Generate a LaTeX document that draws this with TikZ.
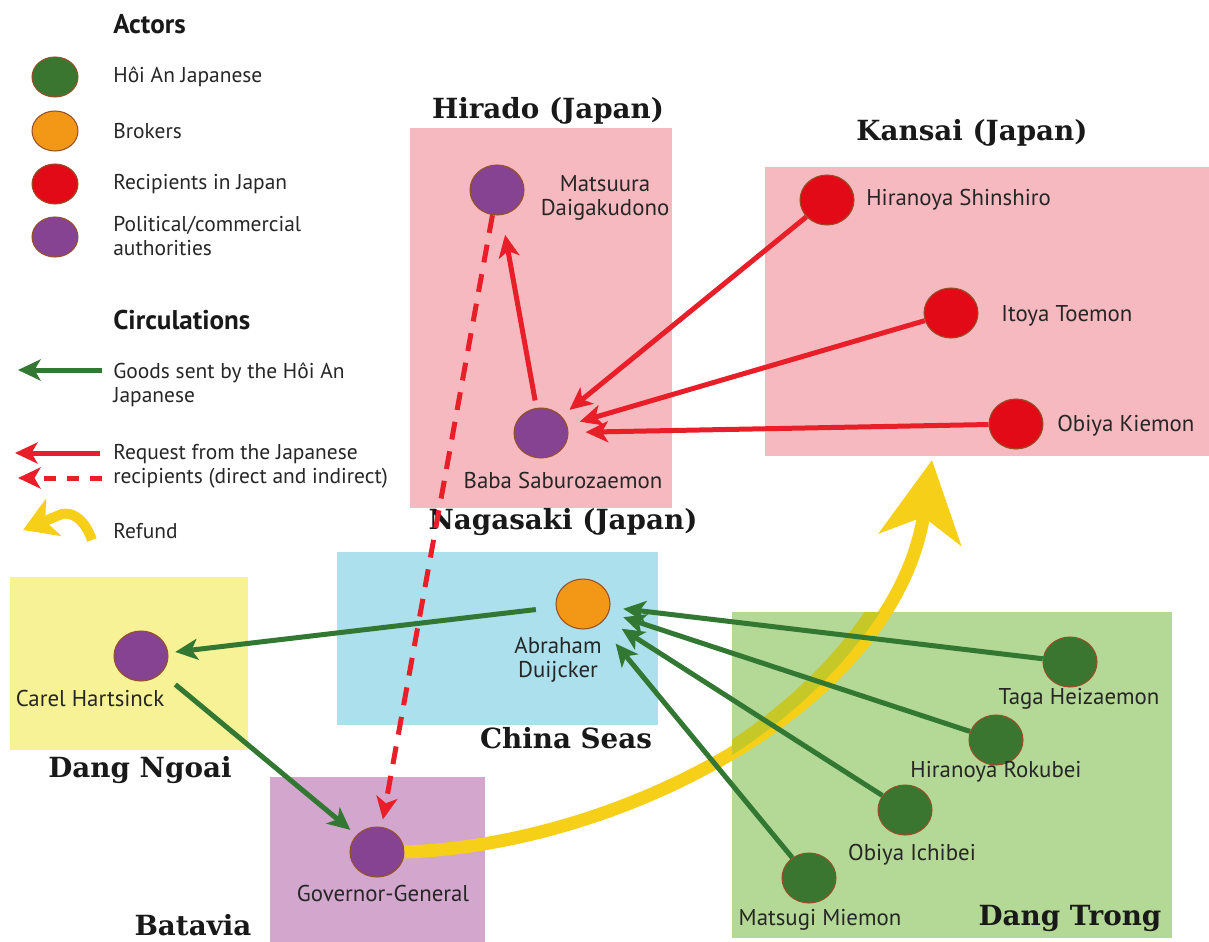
\documentclass[tikz,border=0pt]{standalone}
\usepackage{fontspec}
\setmainfont{PT Sans}
\newfontfamily\regionfont{DejaVu Serif}
\usetikzlibrary{arrows.meta,shapes.geometric}

\definecolor{japanpink}{RGB}{246,185,191}
\definecolor{seablue}{RGB}{173,224,237}
\definecolor{ngoaiyellow}{RGB}{247,242,150}
\definecolor{bataviamauve}{RGB}{210,166,205}
\definecolor{trongreen}{RGB}{180,216,150}
\definecolor{hoigreen}{RGB}{58,118,48}
\definecolor{brokerorange}{RGB}{243,152,22}
\definecolor{recipred}{RGB}{226,10,22}
\definecolor{authpurple}{RGB}{133,67,145}
\definecolor{rimbrown}{RGB}{150,80,40}
\definecolor{requestred}{RGB}{232,30,40}
\definecolor{goodsgreen}{RGB}{50,120,50}
\definecolor{refundyellow}{RGB}{246,208,24}
\definecolor{refundolive}{RGB}{198,200,40}

\newcommand*{\actorw}{1.08cm}
\newcommand*{\actorh}{1.0cm}

\begin{document}
\begin{tikzpicture}
[
	x=0.02cm, y=-0.02cm,
	actor/.style={ellipse,draw=rimbrown,line width=0.6pt,minimum width=\actorw,minimum height=\actorh,inner sep=0pt},
	keyactor/.style={ellipse,draw=rimbrown,line width=0.6pt,minimum width=0.92cm,minimum height=0.8cm,inner sep=0pt},
	who/.style={font=\fontsize{13}{13.6}\selectfont,text=black!85,inner sep=0pt},
	keytext/.style={font=\fontsize{12.2}{13.6}\selectfont,text=black!85,anchor=west,align=left,inner sep=0pt},
	keyhead/.style={font=\fontsize{15.4}{17}\selectfont\bfseries,text=black!90,anchor=west,inner sep=0pt},
	region/.style={font=\regionfont\bfseries\fontsize{15.8}{18}\selectfont,text=black!90,inner sep=0pt},
	request/.style={draw=requestred,line width=0.1cm,-{Stealth[length=0.45cm,width=0.42cm,inset=0.12cm]}},
	goods/.style={draw=goodsgreen,line width=0.1cm,-{Stealth[length=0.45cm,width=0.42cm,inset=0.12cm]}},
	refund/.style={draw=refundyellow,line width=0.26cm}
]

	\useasboundingbox (0,0) rectangle (1209,942);

	% regions
	\fill[japanpink] (410,128) rectangle (672,508);
	\fill[japanpink] (765,167) rectangle (1209,456);
	\fill[seablue] (337,552) rectangle (658,725);
	\fill[ngoaiyellow] (10,577) rectangle (248,750);
	\fill[bataviamauve] (270,777) rectangle (485,942);
	\fill[trongreen] (732,612) rectangle (1172,938);

	\node[region] (hiradotitle) at (548,111) {Hirado (Japan)};
	\node[region] (kansaititle) at (972,133) {Kansai (Japan)};
	\node[region] (nagasakititle) at (563,522) {Nagasaki (Japan)};
	\node[region] (seatitle) at (566,738) {China Seas};
	\node[region] (ngoaititle) at (140,770) {Dang Ngoai};
	\node[region] (bataviatitle) at (193,925) {Batavia};
	\node[region] (trongtitle) at (1070,918) {Dang Trong};

	% actors
	\node[actor,fill=authpurple] (matsuura) at (497,190) {};
	\node[actor,fill=authpurple] (baba) at (541,433) {};
	\node[actor,fill=recipred] (shinshiro) at (827,200) {};
	\node[actor,fill=recipred] (itoya) at (951,313) {};
	\node[actor,fill=recipred] (kiemon) at (1016,424) {};
	\node[actor,fill=brokerorange] (duijcker) at (583,604) {};
	\node[actor,fill=authpurple] (hartsinck) at (141,656) {};
	\node[actor,fill=authpurple] (governor) at (377,852) {};
	\node[actor,fill=hoigreen] (taga) at (1070,662) {};
	\node[actor,fill=hoigreen] (rokubei) at (996,740) {};
	\node[actor,fill=hoigreen] (ichibei) at (905,810) {};
	\node[actor,fill=hoigreen] (matsugi) at (809,878) {};

	\node[who,align=center] (matsuuralbl) at (605,198) {Matsuura\\Daigakudono};
	\node[who] (babalbl) at (563,481) {Baba Saburozaemon};
	\node[who,anchor=west] (shinshirolbl) at (866,200) {Hiranoya Shinshiro};
	\node[who,anchor=west] (itoyalbl) at (1001,316) {Itoya Toemon};
	\node[who,anchor=west] (kiemonlbl) at (1057,426) {Obiya Kiemon};
	\node[who,align=center] (duijckerlbl) at (558,660) {Abraham\\Duijcker};
	\node[who] (hartsincklbl) at (90,698) {Carel Hartsinck};
	\node[who] (governorlbl) at (383,893) {Governor-General};
	\node[who] (tagalbl) at (1079,699) {Taga Heizaemon};
	\node[who] (rokubeilbl) at (996,772) {Hiranoya Rokubei};
	\node[who] (ichibeilbl) at (912,855) {Obiya Ichibei};
	\node[who] (matsugilbl) at (820,920) {Matsugi Miemon};

	% refund
	\draw[refund,-{Stealth[length=1.6cm,width=1.65cm,inset=0.45cm]}] (governor.east) .. controls (620,845) and (895,705) .. (932,460);
	\begin{scope}
		\clip (732,612) rectangle (1172,938);
		\draw[refund,draw=refundolive] (governor.east) .. controls (620,845) and (895,705) .. (932,460);
	\end{scope}

	% requests
	\draw[request,shorten <=0.15cm,shorten >=0.4cm] (baba) -- (matsuura);
	\draw[request,shorten >=0.2cm] (shinshiro) -- (baba);
	\draw[request,shorten >=0.26cm] (itoya) -- (baba);
	\draw[request,shorten >=0.34cm] (kiemon) -- (baba);
	\draw[request,dash pattern=on 0.36cm off 0.24cm,shorten >=0.15cm] (matsuura) -- (governor);

	% goods
	\draw[goods,shorten <=0.4cm,shorten >=0.14cm] (duijcker) -- (hartsinck);
	\draw[goods,shorten <=0.36cm,shorten >=0.16cm] (hartsinck) -- (governor);
	\draw[goods,shorten >=0.26cm] (taga) -- (duijcker);
	\draw[goods,shorten >=0.3cm] (rokubei) -- (duijcker);
	\draw[goods,shorten >=0.38cm] (ichibei) -- (duijcker);
	\draw[goods,shorten >=0.5cm] (matsugi) -- (duijcker);

	% legend
	\node[keyhead] (actorshead) at (113,24) {Actors};
	\node[keyactor,fill=hoigreen] (keyhoi) at (55,77) {};
	\node[keyactor,fill=brokerorange] (keybroker) at (55,131) {};
	\node[keyactor,fill=recipred] (keyrecip) at (55,184) {};
	\node[keyactor,fill=authpurple] (keyauth) at (55,237) {};
	\node[keytext] (keyhoilbl) at (113,77) {Hôi An Japanese};
	\node[keytext] (keybrokerlbl) at (113,131) {Brokers};
	\node[keytext] (keyreciplbl) at (113,184) {Recipients in Japan};
	\node[keytext] (keyauthlbl) at (113,236) {Political/commercial\\authorities};

	\node[keyhead] (circhead) at (113,320) {Circulations};
	\coordinate (goodsfrom) at (102,370);
	\coordinate (goodsto) at (18,370);
	\coordinate (requestfrom) at (100,453);
	\coordinate (requestto) at (15,453);
	\coordinate (indirectfrom) at (102,478);
	\coordinate (indirectto) at (18,478);
	\coordinate (refundfrom) at (92,540);
	\coordinate (refundbend) at (62,514);
	\coordinate (refundto) at (23,530);
	\draw[goods] (goodsfrom) -- (goodsto);
	\draw[request] (requestfrom) -- (requestto);
	\draw[request,dash pattern=on 0.24cm off 0.22cm] (indirectfrom) -- (indirectto);
	\draw[refund,line width=0.2cm,-{Stealth[length=0.66cm,width=0.8cm,inset=0.18cm]}] (refundfrom) .. controls (84,518) and (72,512) .. (refundbend) -- (refundto);
	\node[keytext] (goodslbl) at (113,385) {Goods sent by the Hôi An\\Japanese};
	\node[keytext] (requestlbl) at (113,466) {Request from the Japanese\\recipients (direct and indirect)};
	\node[keytext] (refundlbl) at (113,531) {Refund};

\end{tikzpicture}
\end{document}
